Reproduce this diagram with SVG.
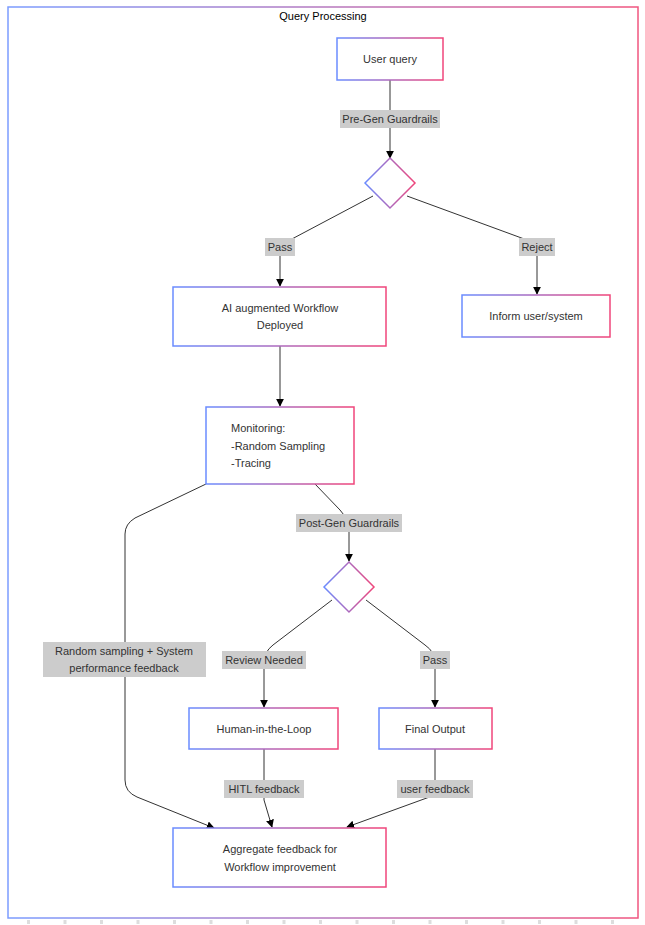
<svg xmlns="http://www.w3.org/2000/svg" width="645" height="925" viewBox="0 0 645 925">
<style>
text{font-family:"Liberation Sans",Arial,sans-serif;font-size:11px;fill:#333;text-anchor:middle}
.node{fill:#fff;stroke:url(#g);stroke-width:1.5}
.e{fill:none;stroke:#333;stroke-width:1;marker-end:url(#a)}
.lb{fill:#ccc}
</style>
<defs>
<linearGradient id="g" x1="0" y1="0" x2="1" y2="0"><stop offset="0" stop-color="#6a8cff"/><stop offset="1" stop-color="#f0457a"/></linearGradient>
<linearGradient id="gu" gradientUnits="userSpaceOnUse" x1="8" y1="0" x2="638" y2="0"><stop offset="0" stop-color="#7b9cff"/><stop offset="1" stop-color="#f0557f"/></linearGradient>
<marker id="a" viewBox="0 0 10 10" refX="9" refY="5" markerWidth="8" markerHeight="8" orient="auto"><path d="M0,0L10,5L0,10z" fill="#000"/></marker>
</defs>
<line x1="27" y1="922" x2="640" y2="922" stroke="#ddd" stroke-width="4" stroke-dasharray="3 33.5"/>
<g id="cluster">
<rect x="8" y="7" width="630" height="911" fill="#fff" stroke="url(#gu)" stroke-width="1.5"/>
<text x="323" y="20" style="fill:#000">Query Processing</text>
</g>
<g id="connectors">
<path class="e" d="M390,80L390,158"/>
<path class="e" d="M373,196L290,240Q280,246 280,256L280,286"/>
<path class="e" d="M407,196L527,240Q537,246 537,256L537,294"/>
<path class="e" d="M280,346L280,406"/>
<path class="e" d="M206,484L135,518Q125,524 125,534L125,780Q125,792 137,797L214,828"/>
<path class="e" d="M315,484L340,510Q349,520 349,530L349,561"/>
<path class="e" d="M332,600L273,645Q264,652 264,662L264,707"/>
<path class="e" d="M366,600L425,645Q435,652 435,662L435,707"/>
<path class="e" d="M264,749L264,800L272,827"/>
<path class="e" d="M435,749L435,795L347,827"/>
<rect class="lb" x="340" y="110" width="100" height="18"/><text x="390" y="123">Pre-Gen Guardrails</text>
<rect class="lb" x="265" y="238" width="30" height="18"/><text x="280" y="251">Pass</text>
<rect class="lb" x="519" y="238" width="36" height="18"/><text x="537" y="251">Reject</text>
<rect class="lb" x="296" y="514" width="106" height="18"/><text x="349" y="527">Post-Gen Guardrails</text>
<rect class="lb" x="222" y="651" width="84" height="18"/><text x="264" y="664">Review Needed</text>
<rect class="lb" x="420" y="651" width="30" height="18"/><text x="435" y="664">Pass</text>
<rect class="lb" x="43" y="642" width="163" height="35"/><text x="124" y="655">Random sampling + System</text><text x="124" y="672">performance feedback</text>
<rect class="lb" x="224" y="780" width="80" height="18"/><text x="264" y="793">HITL feedback</text>
<rect class="lb" x="397" y="780" width="76" height="18"/><text x="435" y="793">user feedback</text>
</g>
<g id="user_query"><rect class="node" x="337" y="38" width="106" height="42"/><text x="390" y="63">User query</text></g>
<g id="pre_gen"><path class="node" d="M390,158L415,183L390,208L365,183z"/></g>
<g id="ai_workflow"><rect class="node" x="173" y="287" width="213" height="59"/><text x="280" y="312">AI augmented Workflow</text><text x="280" y="329">Deployed</text></g>
<g id="inform"><rect class="node" x="462" y="295" width="148" height="42"/><text x="536" y="320">Inform user/system</text></g>
<g id="monitoring"><rect class="node" x="206" y="407" width="148" height="77"/><text x="231" y="432" style="text-anchor:start">Monitoring:</text><text x="231" y="450" style="text-anchor:start">-Random Sampling</text><text x="231" y="467" style="text-anchor:start">-Tracing</text></g>
<g id="post_gen"><path class="node" d="M349,562L374,587L349,612L324,587z"/></g>
<g id="hitl"><rect class="node" x="189" y="708" width="149" height="41"/><text x="264" y="733">Human-in-the-Loop</text></g>
<g id="final"><rect class="node" x="379" y="708" width="113" height="41"/><text x="435" y="733">Final Output</text></g>
<g id="aggregate"><rect class="node" x="173" y="828" width="213" height="59"/><text x="280" y="853">Aggregate feedback for</text><text x="280" y="871">Workflow improvement</text></g>
</svg>
